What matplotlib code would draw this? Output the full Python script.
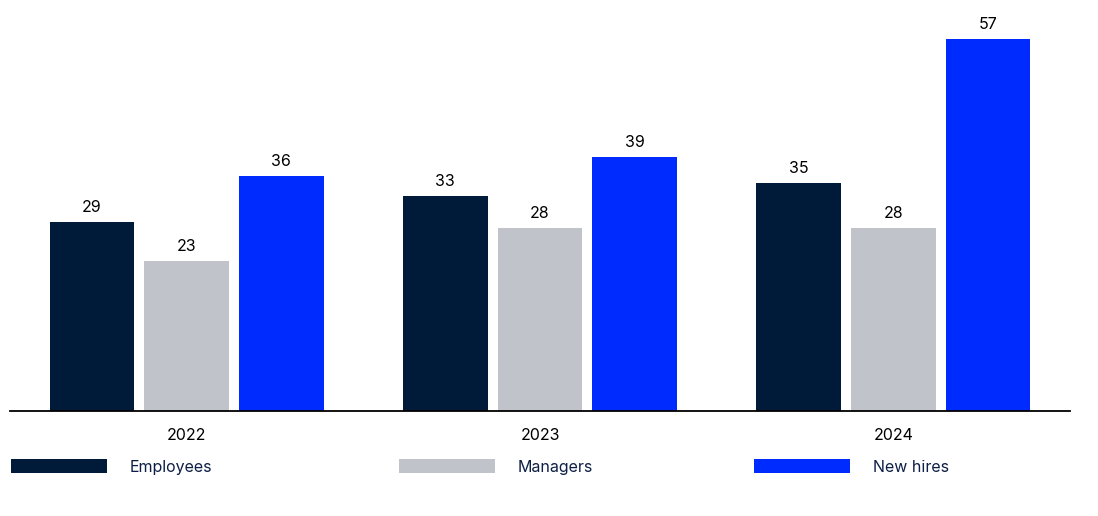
import matplotlib.pyplot as plt
import numpy as np

years = ['2022', '2023', '2024']
employees = [29, 33, 35]
managers = [23, 28, 28]
new_hires = [36, 39, 57]

series = [('Employees', employees, '#001a3a'),
          ('Managers', managers, '#c0c3ca'),
          ('New hires', new_hires, '#002bff')]

plt.rcParams['font.family'] = ['Inter', 'DejaVu Sans']

fig = plt.figure(figsize=(10.98, 5.16), dpi=100)
ax = fig.add_axes([10 / 1098, 1 - 411 / 516, 1060 / 1098, 411 / 516])

x = np.arange(len(years))
width = 0.24
step = 0.268

handles = []
for i, (name, vals, color) in enumerate(series):
    bars = ax.bar(x + (i - 1) * step, vals, width, color=color, label=name)
    ax.bar_label(bars, labels=[str(v) for v in vals], padding=5, fontsize=11.5, color='black')
    handles.append(bars)

ax.set_xlim(-0.5, 2.5)
ax.set_ylim(0, 63)
ax.set_xticks(x)
ax.set_xticklabels(years, fontsize=11.5)
ax.tick_params(axis='x', length=0, pad=12)
ax.set_yticks([])
for s in ['top', 'left', 'right']:
    ax.spines[s].set_visible(False)
ax.spines['bottom'].set_linewidth(1.3)
ax.spines['bottom'].set_color('black')

# legend entries spread along the bottom
leg_x = [11 / 1098, 399 / 1098, 754 / 1098]
for h, lx in zip(handles, leg_x):
    leg = fig.legend(handles=[h], loc='center left', bbox_to_anchor=(lx, 1 - 467 / 516),
                     frameon=False, fontsize=11.5, handlelength=6.0, handleheight=0.95,
                     handletextpad=1.45, borderpad=0, borderaxespad=0)
    for t in leg.get_texts():
        t.set_color('#0d1f45')

fig.savefig('out.png', dpi=100)
